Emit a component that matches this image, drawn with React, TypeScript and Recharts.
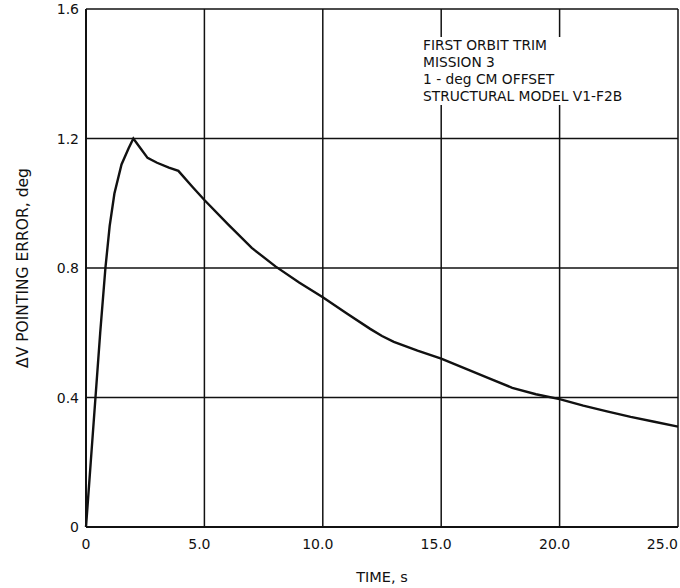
import React from "react";
import {
  LineChart,
  Line,
  XAxis,
  YAxis,
  CartesianGrid,
  Label,
} from "recharts";

// time, s
const timeValues = [
  0, 0.2, 0.4, 0.6, 0.82, 1.0, 1.2, 1.5, 1.8, 2.0, 2.3, 2.6, 3.0, 3.5, 3.9,
  4.5, 5.0, 6.0, 7.0, 8.0, 9.0, 10.0, 11.0, 12.0, 12.5, 13.0, 14.0, 15.0, 16.0,
  17.0, 18.0, 19.0, 20.0, 21.0, 22.0, 23.0, 24.0, 25.0,
];
// delta-V pointing error, deg
const errorValues = [
  0, 0.2, 0.4, 0.6, 0.8, 0.93, 1.03, 1.12, 1.17, 1.2, 1.17, 1.14, 1.125,
  1.11, 1.1, 1.05, 1.01, 0.935, 0.862, 0.805, 0.755, 0.71, 0.66, 0.612, 0.59,
  0.572, 0.545, 0.52, 0.49, 0.46, 0.43, 0.41, 0.395, 0.375, 0.357, 0.34, 0.325,
  0.31,
];
const xTicks = [0, 5, 10, 15, 20, 25];
const yTicks = [0, 0.4, 0.8, 1.2, 1.6];
const notes = [
  "FIRST ORBIT TRIM",
  "MISSION 3",
  "1 - deg CM OFFSET",
  "STRUCTURAL MODEL V1-F2B",
];

const data = timeValues.map((t, i) => ({ t, err: errorValues[i] }));

const FONT = "'DejaVu Sans', Verdana, sans-serif";
const INK = "#111";

const XTick = (props: any) => {
  const { x, y, payload } = props;
  const v = payload.value as number;
  const label = v === 0 ? "0" : v.toFixed(1);
  const last = v === 25;
  return (
    <text
      x={last ? x : v === 0 ? x : x - 5}
      y={y + 14}
      textAnchor={last ? "end" : "middle"}
      fontSize={14}
      fontFamily={FONT}
      fill={INK}
    >
      {label}
    </text>
  );
};

const YTick = (props: any) => {
  const { x, y, payload } = props;
  const v = payload.value as number;
  const label = v === 0 ? "0" : v.toFixed(1);
  return (
    <text
      x={x + 1}
      y={y + 5}
      textAnchor="end"
      fontSize={14}
      fontFamily={FONT}
      fill={INK}
    >
      {label}
    </text>
  );
};

export default function App() {
  return (
    <div style={{ position: "absolute", left: 0, top: 0, width: 680, height: 588, background: "#fff" }}>
      <LineChart
        width={680}
        height={588}
        data={data}
        margin={{ top: 9, right: 2, left: 0, bottom: 0 }}
      >
        <CartesianGrid stroke={INK} strokeWidth={1.5} />
        <XAxis
          dataKey="t"
          type="number"
          domain={[0, 25]}
          ticks={xTicks}
          tickLine={false}
          axisLine={{ stroke: INK, strokeWidth: 2 }}
          height={61}
          tick={<XTick />}
          interval={0}
        >
          <Label
            value="TIME, s"
            position="insideBottom"
            offset={6}
            style={{ fontSize: 14.5, fontFamily: FONT, fill: INK }}
          />
        </XAxis>
        <YAxis
          type="number"
          domain={[0, 1.6]}
          ticks={yTicks}
          tickLine={false}
          axisLine={{ stroke: INK, strokeWidth: 2 }}
          width={86}
          tick={<YTick />}
          interval={0}
        >
          <Label
            value="ΔV POINTING ERROR, deg"
            angle={-90}
            position="insideLeft"
            offset={22}
            style={{ fontSize: 15.5, fontFamily: FONT, fill: INK, textAnchor: "middle" }}
          />
        </YAxis>
        <Line
          dataKey="err"
          type="linear"
          stroke={INK}
          strokeWidth={2.4}
          dot={false}
          isAnimationActive={false}
        />
      </LineChart>
      <div
        style={{
          position: "absolute",
          left: 423,
          top: 37,
          fontFamily: FONT,
          fontSize: 13.8,
          lineHeight: "17px",
          color: INK,
          background: "#fff",
          whiteSpace: "nowrap",
        }}
      >
        {notes.map((n) => (
          <div key={n}>{n}</div>
        ))}
      </div>
    </div>
  );
}
